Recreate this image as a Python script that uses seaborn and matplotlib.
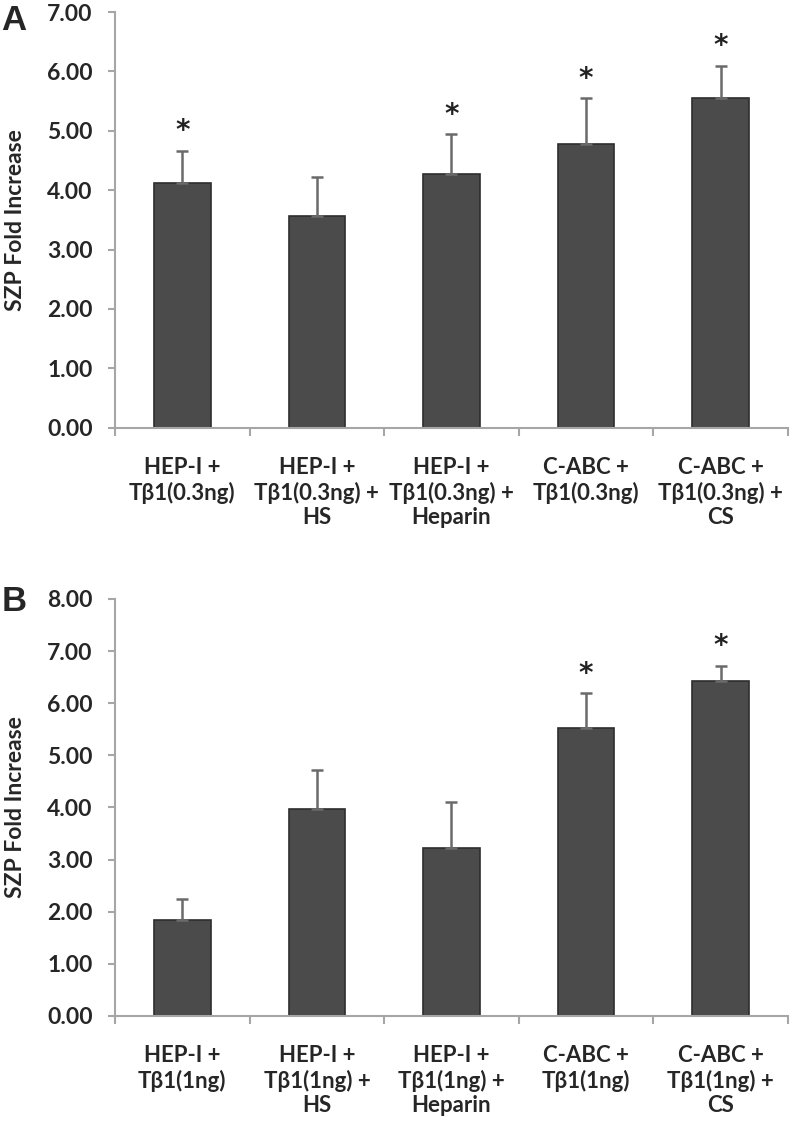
import matplotlib
matplotlib.use("Agg")
import matplotlib.pyplot as plt
import seaborn as sns
import pandas as pd
import numpy as np
from matplotlib.ticker import FixedLocator, FormatStrFormatter

# ---- data ----
labels_a = ["HEP-I +\nTβ1(0.3ng)", "HEP-I +\nTβ1(0.3ng) +\nHS", "HEP-I +\nTβ1(0.3ng) +\nHeparin",
            "C-ABC +\nTβ1(0.3ng)", "C-ABC +\nTβ1(0.3ng) +\nCS"]
values_a = [4.12, 3.56, 4.27, 4.77, 5.55]
err_a = [0.54, 0.67, 0.67, 0.78, 0.55]
star_a = [True, False, True, True, True]

labels_b = ["HEP-I +\nTβ1(1ng)", "HEP-I +\nTβ1(1ng) +\nHS", "HEP-I +\nTβ1(1ng) +\nHeparin",
            "C-ABC +\nTβ1(1ng)", "C-ABC +\nTβ1(1ng) +\nCS"]
values_b = [1.85, 3.98, 3.22, 5.52, 6.43]
err_b = [0.39, 0.73, 0.88, 0.67, 0.29]
star_b = [False, False, False, True, True]

ylabel = "SZP Fold Increase"

sns.set_theme(style="white")
FONT = ["Lato", "DejaVu Sans"]
plt.rcParams["font.family"] = FONT

BAR = "#4b4b4b"
EDGE = "#2e2e2e"
SPINE = "#a6a6a6"
ERR = "#6a6a6a"

fig = plt.figure(figsize=(7.92, 11.28), dpi=100)
ax_a = fig.add_axes([0.1452, 0.6208, 0.8497, 0.3685])
ax_b = fig.add_axes([0.1452, 0.0993, 0.8497, 0.3697])


def panel(ax, labels, values, errs, stars, ymax):
    df = pd.DataFrame({"cond": labels, "val": values})
    sns.barplot(data=df, x="cond", y="val", ax=ax, color=BAR, edgecolor=EDGE,
                linewidth=1.2, width=0.42, errorbar=None, saturation=1)
    x = np.arange(len(values))
    ax.errorbar(x, values, yerr=[np.zeros(len(errs)), errs], fmt="none",
                ecolor=ERR, elinewidth=1.8, capsize=4.5, capthick=1.8)
    for xi, v, e, s in zip(x, values, errs, stars):
        if s:
            ax.annotate("*", (xi, v + e), xytext=(0, 4), textcoords="offset points",
                        ha="center", va="bottom", fontsize=20, color="#222222",
                        fontweight="bold", family=["DejaVu Sans"])
    ax.set_xlim(-0.5, len(values) - 0.5)
    ax.set_ylim(0, ymax)
    ax.yaxis.set_major_locator(FixedLocator(np.arange(0, ymax + 0.5, 1.0)))
    ax.yaxis.set_major_formatter(FormatStrFormatter("%.2f"))
    for side in ["top", "right"]:
        ax.spines[side].set_visible(False)
    for side in ["left", "bottom"]:
        ax.spines[side].set_color(SPINE)
        ax.spines[side].set_linewidth(1.5)
    ax.tick_params(axis="y", which="major", length=5, width=1.5, color=SPINE,
                   direction="out", left=True, pad=11, labelsize=16.5)
    ax.tick_params(axis="x", which="major", length=0, pad=21, labelsize=16)
    ax.xaxis.set_minor_locator(FixedLocator(np.arange(-0.5, len(values), 1.0)))
    ax.tick_params(axis="x", which="minor", length=6, width=1.5, color=SPINE,
                   direction="out", bottom=True)
    for t in ax.get_yticklabels():
        t.set_fontweight("bold")
    for t in ax.get_xticklabels():
        t.set_fontweight("bold")
        t.set_linespacing(1.2)
        t.set_verticalalignment("top")
    ax.set_xlabel("")
    ax.set_ylabel(ylabel, fontsize=16.5, fontweight="bold")
    ax.yaxis.set_label_coords(-0.132, 0.5)


panel(ax_a, labels_a, values_a, err_a, star_a, 7)
panel(ax_b, labels_b, values_b, err_b, star_b, 8)

letter_font = ["Liberation Sans", "DejaVu Sans"]
fig.text(0.002, 1 - 30 / 1128, "A", fontsize=25, fontweight="bold",
         family=letter_font, ha="left", va="baseline")
fig.text(0.002, 1 - 611 / 1128, "B", fontsize=25, fontweight="bold",
         family=letter_font, ha="left", va="baseline")

fig.savefig("out.png", dpi=100)
